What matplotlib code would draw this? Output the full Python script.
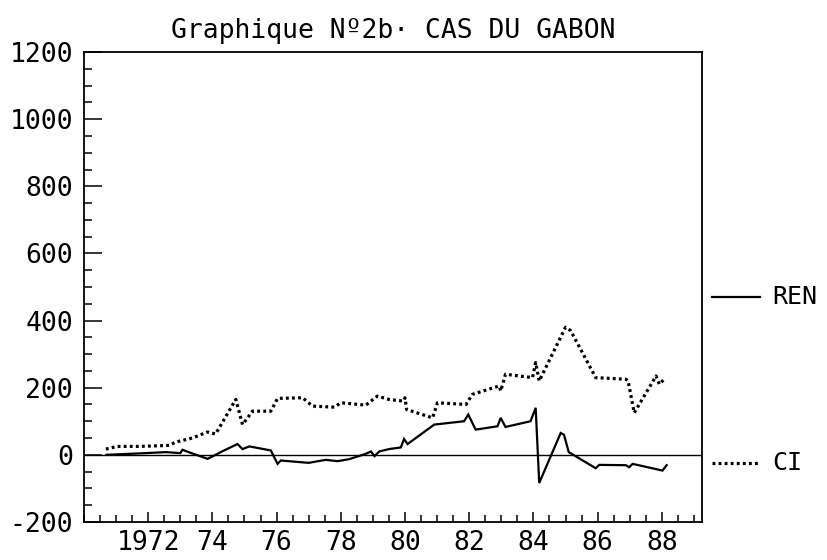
import numpy as np
import matplotlib
matplotlib.use("Agg")
import matplotlib.pyplot as plt
from matplotlib.ticker import MultipleLocator, FixedLocator, FixedFormatter
from matplotlib.lines import Line2D

plt.rcParams['font.family'] = ['DejaVu Sans Mono', 'DejaVu Sans']
plt.rcParams['axes.unicode_minus'] = False

# values (year, value)
ren_year = [1970.7, 1971.7, 1972.55, 1973.0, 1973.07, 1973.26, 1973.85, 1974.06,
            1974.3, 1974.78, 1974.94, 1975.15, 1975.82, 1976.03, 1976.13, 1977.0,
            1977.53, 1977.9, 1978.26, 1978.78, 1978.94, 1979.05, 1979.2, 1979.5,
            1979.87, 1979.97, 1980.08, 1980.91, 1981.84, 1981.97, 1982.2, 1982.88,
            1982.98, 1983.13, 1983.91, 1984.07, 1984.18, 1984.85, 1984.95, 1985.1,
            1985.94, 1986.05, 1986.88, 1986.98, 1987.09, 1988.02, 1988.15]
ren_val = [0, 4, 8, 5, 15, 8, -12, -2,
           10, 32, 17, 25, 13, -27, -17, -24,
           -15, -19, -13, 3, 10, -4, 10, 17,
           22, 47, 32, 90, 100, 120, 75, 85,
           110, 83, 100, 140, -84, 65, 60, 8,
           -40, -30, -31, -37, -27, -47, -31]

ci_year = [1970.68, 1971.04, 1971.72, 1972.65, 1972.86, 1973.38, 1973.85, 1974.1,
           1974.73, 1974.94, 1975.25, 1975.82, 1976.03, 1976.81, 1977.12, 1977.8,
           1978.0, 1978.78, 1979.14, 1979.5, 1979.95, 1980.0, 1980.05, 1980.86,
           1981.01, 1981.9, 1982.1, 1982.93, 1982.98, 1983.13, 1983.97, 1984.07,
           1984.18, 1985.0, 1985.16, 1985.94, 1986.88, 1986.95, 1987.14, 1987.82,
           1987.92, 1988.07]
ci_val = [17, 25, 25, 28, 38, 50, 68, 62,
          165, 90, 130, 130, 168, 170, 145, 142,
          155, 148, 175, 165, 160, 170, 135, 110,
          155, 150, 180, 205, 190, 240, 230, 275,
          220, 380, 370, 230, 225, 220, 125, 235,
          210, 225]

year_ticks = [1972, 1974, 1976, 1978, 1980, 1982, 1984, 1986, 1988]
year_labels = ['1972', '74', '76', '78', '80', '82', '84', '86', '88']
y_ticks = [-200, 0, 200, 400, 600, 800, 1000, 1200]

fig = plt.figure(figsize=(8.28, 5.6), dpi=100)
ax = fig.add_axes([0.1014, 0.068, 0.7464, 0.839])

ax.axhline(0, color='black', lw=1.0)
ax.plot(ren_year, ren_val, color='black', lw=1.6, solid_joinstyle='miter')
ax.plot(ci_year, ci_val, color='black', lw=2.3, ls=(0, (0.9, 1.0)))

ax.set_xlim(1970, 1989.25)
ax.set_ylim(-200, 1200)

ax.xaxis.set_major_locator(FixedLocator(year_ticks))
ax.xaxis.set_major_formatter(FixedFormatter(year_labels))
ax.xaxis.set_minor_locator(MultipleLocator(0.5))
ax.set_yticks(y_ticks)
ax.yaxis.set_minor_locator(MultipleLocator(50))

ax.tick_params(axis='both', which='both', direction='in', colors='black',
               labelsize=19, width=1.1)
ax.tick_params(axis='y', which='major', length=13, pad=8)
ax.tick_params(axis='y', which='minor', length=6)
ax.tick_params(axis='x', which='major', length=7, pad=6)
ax.tick_params(axis='x', which='minor', length=5)

for s in ax.spines.values():
    s.set_linewidth(1.3)

ax.set_title('Graphique N\u00ba2b\u00b7 CAS DU GABON', fontsize=19, pad=10)

# legend entries to the right of the frame
fig.add_artist(Line2D([712 / 828, 760 / 828], [1 - 297 / 560] * 2,
                      color='black', lw=1.6))
fig.text(772 / 828, 1 - 297 / 560, 'REN', fontsize=18, va='center', ha='left')
fig.add_artist(Line2D([712 / 828, 760 / 828], [1 - 463 / 560] * 2,
                      color='black', lw=2.3, ls=(0, (0.9, 1.0))))
fig.text(772 / 828, 1 - 463 / 560, 'CI', fontsize=18, va='center', ha='left')

fig.savefig('out.png', dpi=100)
